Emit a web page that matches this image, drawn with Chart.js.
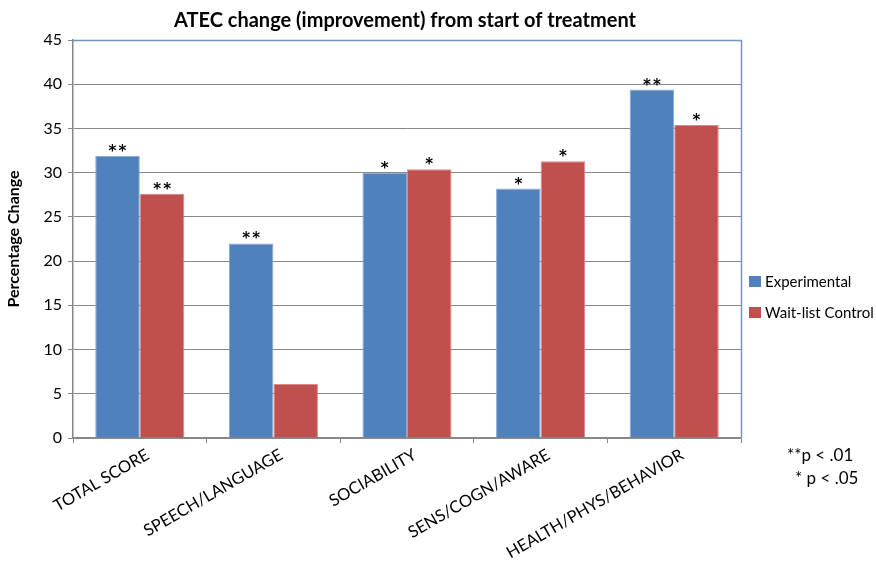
<!DOCTYPE html>
<html>
<head>
<meta charset="utf-8">
<script src="https://cdn.jsdelivr.net/npm/chart.js@4.4.1/dist/chart.umd.min.js"></script>
<style>
  html, body { margin: 0; padding: 0; background: #fff; }
  #wrap { width: 876px; height: 562px; }
</style>
</head>
<body>
<div id="wrap"><canvas id="c" width="876" height="562"></canvas></div>
<script>
// ATEC change chart
const categories = ['TOTAL SCORE', 'SPEECH/LANGUAGE', 'SOCIABILITY', 'SENS/COGN/AWARE', 'HEALTH/PHYS/BEHAVIOR'];
const experimental = [31.9, 22.0, 30.0, 28.2, 39.4];
const waitlist = [27.6, 6.1, 30.4, 31.3, 35.4];
const expMarks = ['**', '**', '*', '*', '**'];
const ctlMarks = ['**', '', '*', '*', '*'];
const seriesNames = ['Experimental', 'Wait-list Control'];
const footnotes = ['**p < .01', '* p < .05'];

const BLUE = '#4F81BD', RED = '#C0504D';
const FONT = 'Lato, "Liberation Sans", sans-serif';
const STAR_FONT = '"DejaVu Sans", sans-serif';

const extras = {
  id: 'extras',
  afterDraw(chart) {
    const { ctx, chartArea: a } = chart;
    ctx.save();
    // plot frame top/right
    ctx.strokeStyle = '#7395bf';
    ctx.lineWidth = 1.5;
    ctx.beginPath();
    ctx.moveTo(a.left, a.top + 0.5);
    ctx.lineTo(a.right + 0.5, a.top + 0.5);
    ctx.lineTo(a.right + 0.5, a.bottom);
    ctx.stroke();

    // title
    ctx.fillStyle = '#000';
    ctx.font = 'bold 20px ' + FONT;
    ctx.textAlign = 'center';
    ctx.textBaseline = 'middle';
    ctx.fillText('ATEC change (improvement) from start of treatment', 405, 21);

    // significance marks, glyph centred ~8px above the bar
    ctx.font = 'bold 15px ' + STAR_FONT;
    ctx.textBaseline = 'alphabetic';
    const m = ctx.measureText('*');
    const mid = (m.actualBoundingBoxAscent - m.actualBoundingBoxDescent) / 2;
    [expMarks, ctlMarks].forEach((marks, di) => {
      const meta = chart.getDatasetMeta(di);
      meta.data.forEach((bar, i) => {
        if (!marks[i]) return;
        const n = marks[i].length;
        for (let k = 0; k < n; k++) {
          const x = bar.x + (k - (n - 1) / 2) * 10;
          ctx.fillText('*', x, bar.y - 8 + mid);
        }
      });
    });

    // legend
    ctx.font = '15px ' + FONT;
    ctx.textAlign = 'left';
    ctx.textBaseline = 'middle';
    [BLUE, RED].forEach((col, i) => {
      const y = 282 + i * 31;
      ctx.fillStyle = col;
      ctx.fillRect(749, y - 6, 12, 11);
      ctx.fillStyle = '#000';
      ctx.fillText(seriesNames[i], 765, y);
    });

    // footnote
    ctx.font = '17px ' + FONT;
    ctx.fillText(footnotes[0], 787, 456);
    ctx.fillText(footnotes[1], 795, 479);
    ctx.restore();
  }
};

new Chart(document.getElementById('c'), {
  type: 'bar',
  data: {
    labels: categories,
    datasets: [
      { label: seriesNames[0], data: experimental, backgroundColor: BLUE, borderColor: '#8aa9d3', borderWidth: 1 },
      { label: seriesNames[1], data: waitlist, backgroundColor: RED, borderColor: '#d98a88', borderWidth: 1 }
    ]
  },
  options: {
    responsive: false,
    animation: false,
    events: [],
    layout: { padding: { top: 40, right: 135, left: 0, bottom: 0 } },
    plugins: { legend: { display: false }, tooltip: { enabled: false } },
    datasets: { bar: { categoryPercentage: 0.667, barPercentage: 1.0 } },
    scales: {
      x: {
        offset: true,
        grid: { offset: true, drawOnChartArea: false, drawTicks: true, tickLength: 5, color: '#878787' },
        border: { color: '#878787', width: 1.5 },
        ticks: { color: '#000', font: { family: FONT, size: 16.5 }, minRotation: 30, maxRotation: 30, autoSkip: false, padding: 2, labelOffset: 8 },
        afterFit(s) { s.height = 124; }
      },
      y: {
        min: 0, max: 45,
        ticks: { stepSize: 5, color: '#000', font: { family: FONT, size: 16 }, padding: 6 },
        grid: { color: '#888888', lineWidth: 1, tickLength: 5 },
        border: { color: '#878787', width: 1.5 },
        title: { display: true, text: 'Percentage Change', color: '#000', font: { family: FONT, size: 16, weight: 'bold' }, padding: { top: 4, bottom: 3 } },
        afterFit(s) { s.width = 73; }
      }
    }
  },
  plugins: [extras]
});
</script>
</body>
</html>
